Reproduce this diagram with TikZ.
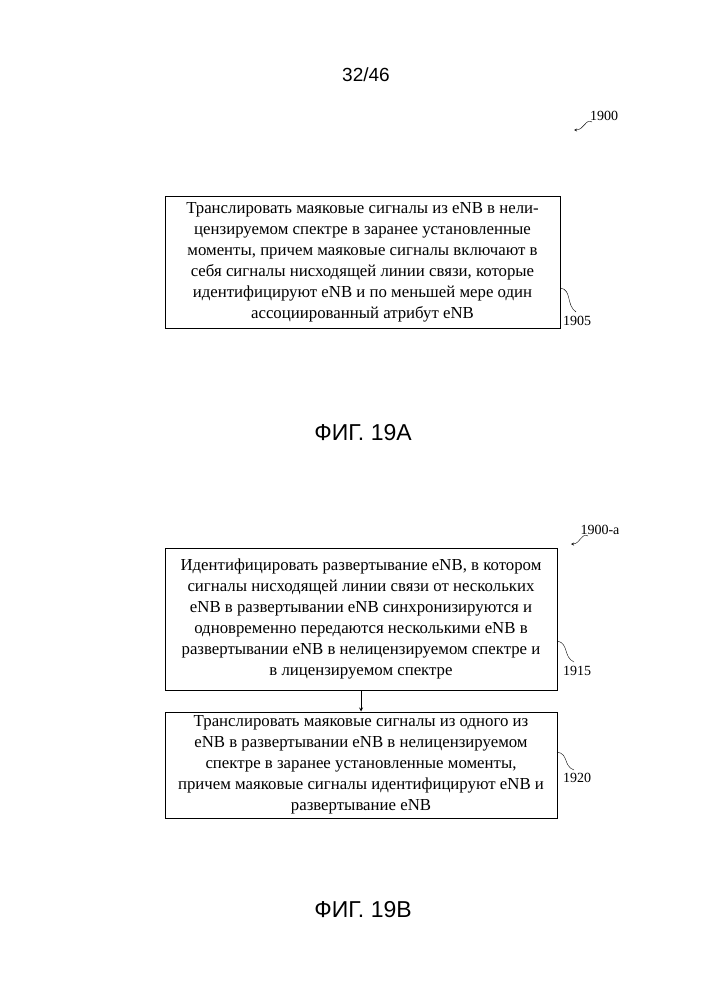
\documentclass[tikz,border=0pt]{standalone}
\usepackage{fontspec}
\setmainfont{Liberation Serif}
\newfontfamily\sansf{Liberation Sans}
\begin{document}
\begin{tikzpicture}[x=1pt,y=-1pt,
  box/.style={draw,line width=1pt,inner sep=0pt,align=center,font=\fontsize{16.8}{21}\selectfont},
  lbl/.style={font=\fontsize{14}{16}\selectfont,inner sep=1pt},
  fig/.style={font=\sansf\fontsize{23}{26}\selectfont}]
\useasboundingbox (0,0) rectangle (707,1000);
\node[font=\sansf\fontsize{19}{22}\selectfont] (pg) at (366,75) {32/46};
\node[lbl] (l1900) at (604,116) {1900};
\draw[-stealth] (592,122) .. controls (586,118) and (584,130) .. (574,130);
\node[box,minimum width=395pt,minimum height=131pt] (b1) at (362.5,262.5) {Транслировать маяковые сигналы из eNB в нели-\\цензируемом спектре в заранее установленные\\моменты, причем маяковые сигналы включают в\\себя сигналы нисходящей линии связи, которые\\идентифицируют eNB и по меньшей мере один\\ассоциированный атрибут eNB};
\node[lbl] (l1905) at (577,321) {1905};
\draw (b1.east |- 0,288) .. controls (572,290) and (566,305) .. (576,312);
\node[fig] (f1) at (363,433) {ФИГ. 19A};
\node[lbl] (l1900a) at (600,530) {1900-a};
\draw[-stealth] (588,536) .. controls (582,532) and (580,544) .. (571,544);
\node[box,minimum width=392pt,minimum height=142pt] (b2) at (361,619) {Идентифицировать развертывание eNB, в котором\\сигналы нисходящей линии связи от нескольких\\eNB в развертывании eNB синхронизируются и\\одновременно передаются несколькими eNB в\\развертывании eNB в нелицензируемом спектре и\\в лицензируемом спектре};
\node[lbl] (l1915) at (577,671) {1915};
\draw (557,641) .. controls (569,643) and (563,657) .. (574,662);
\node[box,minimum width=392pt,minimum height=106pt] (b3) at (361,765) {Транслировать маяковые сигналы из одного из\\eNB в развертывании eNB в нелицензируемом\\спектре в заранее установленные моменты,\\причем маяковые сигналы идентифицируют eNB и\\развертывание eNB};
\node[lbl] (l1920) at (577,778) {1920};
\draw (557,752) .. controls (569,754) and (563,766) .. (574,770);
\draw[-stealth,line width=0.8pt] (b2.south) -- (b3.north);
\node[fig] (f2) at (363,910) {ФИГ. 19B};
\end{tikzpicture}
\end{document}
